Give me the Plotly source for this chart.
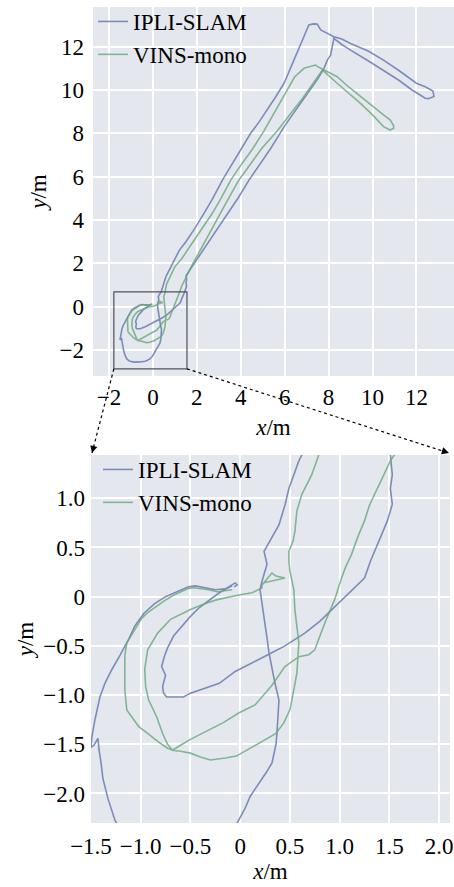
import plotly.graph_objects as go

# ---------------- data ----------------
ipli_x = [-0.06, -0.03, -0.05, -0.08, -0.15, -0.25, -0.35, -0.45, -0.52, -0.62, -0.75, -0.86, -0.97,
          -1.06, -1.13, -1.21, -1.29, -1.36, -1.41, -1.46, -1.49, -1.50, -1.47, -1.43, -1.42, -1.40,
          -1.38, -1.33, -1.26, -1.18, -1.05, -0.85, -0.60, -0.35, -0.15, -0.03, 0.05, 0.10, 0.19, 0.26,
          0.32, 0.36, 0.37, 0.38, 0.39, 0.35, 0.32, 0.29, 0.27, 0.25, 0.22, 0.20, 0.22, 0.27, 0.24, 0.29,
          0.39, 0.45, 0.49, 0.54, 0.59, 0.62, 0.75, 0.97, 1.20, 1.50, 1.90, 2.33, 2.70, 3.17, 3.50, 3.90,
          4.45, 4.85, 5.21, 5.60, 5.97, 6.20, 6.42, 6.65, 6.88, 7.00, 7.10, 7.30, 7.48, 7.64, 7.95, 8.24,
          8.60, 9.00, 9.80, 10.50, 11.20, 12.00, 12.40, 12.75, 12.80, 12.55, 12.40, 11.80, 11.20, 10.50,
          9.80, 9.00, 8.60, 8.24, 8.15, 8.09, 7.94, 7.79, 7.50, 7.10, 6.73, 6.35, 5.97, 5.36, 4.90, 4.38,
          3.90, 3.40, 2.90, 2.35, 1.87, 1.65, 1.51, 1.53, 1.51, 1.53, 1.48, 1.41, 1.31, 1.25, 1.17, 1.13,
          0.95, 0.80, 0.65, 0.45, 0.28, 0.12, -0.05, -0.21, -0.35, -0.50, -0.57, -0.66, -0.74, -0.77,
          -0.78, -0.75, -0.79, -0.76, -0.73, -0.67, -0.60, -0.50, -0.41, -0.30, -0.21, -0.12, -0.08]
ipli_y = [0.10, 0.12, 0.14, 0.12, 0.08, 0.07, 0.09, 0.11, 0.10, 0.06, 0.00, -0.07, -0.17,
          -0.30, -0.45, -0.60, -0.74, -0.88, -1.02, -1.25, -1.42, -1.53, -1.51, -1.44, -1.55, -1.68,
          -1.85, -2.05, -2.27, -2.42, -2.52, -2.56, -2.55, -2.52, -2.42, -2.30, -2.15, -2.03, -1.90, -1.79,
          -1.69, -1.50, -1.39, -1.20, -1.05, -0.88, -0.72, -0.57, -0.42, -0.27, -0.03, 0.07, 0.16, 0.33, 0.46, 0.55,
          0.73, 0.93, 1.10, 1.24, 1.38, 1.44, 1.70, 2.17, 2.60, 3.00, 3.60, 4.32, 4.95, 5.85, 6.40, 7.10,
          8.00, 8.55, 9.08, 9.70, 10.31, 10.85, 11.38, 11.90, 12.46, 12.80, 13.00, 13.05, 13.04, 12.77, 12.62, 12.46,
          12.35, 12.15, 11.80, 11.38, 10.90, 10.31, 10.15, 9.95, 9.70, 9.60, 9.62, 10.00, 10.45, 10.92,
          11.35, 11.84, 12.10, 12.38, 11.95, 11.61, 11.38, 11.00, 10.50, 9.95, 9.40, 8.85, 8.30, 7.30, 6.60, 5.85,
          5.05, 4.30, 3.55, 2.70, 2.00, 1.70, 1.44, 1.24, 1.10, 0.94, 0.77, 0.60, 0.36, 0.19, 0.11, 0.07,
          -0.10, -0.25, -0.37, -0.50, -0.59, -0.67, -0.76, -0.88, -0.93, -0.98, -1.02, -1.02, -1.02, -0.98,
          -0.91, -0.80, -0.71, -0.60, -0.52, -0.40, -0.32, -0.20, -0.11, -0.03, 0.04, 0.09, 0.11]

vins_x = [-0.08, -0.15, -0.23, -0.32, -0.40, -0.47, -0.53, -0.60, -0.66, -0.76, -0.86, -0.94, -0.99,
          -1.05, -1.09, -1.14, -1.16, -1.16, -1.16, -1.14, -1.09, -1.02, -0.93, -0.83, -0.73, -0.68,
          -0.60, -0.50, -0.40, -0.30, -0.15, -0.04, 0.05, 0.17, 0.26, 0.36, 0.44, 0.50, 0.52, 0.55, 0.57,
          0.58, 0.59, 0.57, 0.55, 0.54, 0.52, 0.50, 0.49, 0.49, 0.53, 0.55, 0.57, 0.62, 0.67, 0.72, 0.79,
          1.00, 1.30, 1.90, 2.71, 3.10, 3.55, 4.05, 4.55, 5.05, 5.60, 6.05, 6.45, 6.88, 7.10, 7.40, 7.64,
          8.00, 8.39, 8.90, 9.45, 10.00, 10.50, 10.80, 10.96, 10.96, 10.80, 10.50, 10.00, 9.45, 8.90, 8.39,
          7.72, 7.30, 6.80, 6.30, 5.65, 4.95, 4.40, 3.92, 3.50, 3.09, 2.60, 2.10, 1.80, 1.55, 1.51, 1.45,
          1.38, 1.30, 1.25, 1.18, 1.12, 1.06, 1.02, 0.95, 0.85, 0.75, 0.69, 0.59, 0.45, 0.32, 0.15, -0.01,
          -0.17, -0.35, -0.50, -0.60, -0.68, -0.73, -0.78, -0.84, -0.92, -0.95, -0.96, -0.93, -0.83, -0.70,
          -0.50, -0.35, -0.23, 0.00, 0.12, 0.22, 0.22, 0.32, 0.36, 0.45, 0.33, 0.23]
vins_y = [0.07, 0.06, 0.05, 0.07, 0.08, 0.09, 0.08, 0.05, 0.02, -0.04, -0.11, -0.17, -0.22,
          -0.32, -0.40, -0.47, -0.60, -0.74, -0.95, -1.15, -1.22, -1.32, -1.39, -1.47, -1.54, -1.56,
          -1.57, -1.59, -1.63, -1.66, -1.64, -1.62, -1.57, -1.50, -1.45, -1.39, -1.28, -1.15, -1.05, -0.90, -0.78,
          -0.62, -0.47, -0.30, -0.13, 0.07, 0.17, 0.26, 0.36, 0.46, 0.56, 0.66, 0.87, 1.04, 1.14, 1.24, 1.44,
          1.85, 2.20, 3.10, 4.32, 5.00, 5.85, 6.60, 7.30, 8.10, 9.10, 9.90, 10.60, 11.00, 11.07, 11.15, 11.00,
          10.80, 10.61, 10.15, 9.69, 9.25, 8.85, 8.62, 8.35, 8.23, 8.15, 8.31, 8.85, 9.38, 9.85, 10.31,
          10.92, 10.30, 9.60, 8.95, 8.10, 7.30, 6.55, 5.85, 5.10, 4.32, 3.40, 2.50, 1.95, 1.44, 1.38, 1.25,
          1.10, 0.93, 0.77, 0.60, 0.43, 0.30, 0.19, -0.03, -0.27, -0.54, -0.59, -0.61, -0.71, -0.90, -1.10, -1.18,
          -1.28, -1.37, -1.45, -1.51, -1.56, -1.50, -1.39, -1.22, -1.05, -0.92, -0.74, -0.54, -0.37, -0.23,
          -0.13, -0.07, -0.03, 0.02, 0.04, 0.09, 0.12, 0.24, 0.21, 0.19, 0.16, 0.14]

top_ticks = [-2, 0, 2, 4, 6, 8, 10, 12]
top_ticktext = ["\u22122", "0", "2", "4", "6", "8", "10", "12"]
zoom_xticks = [-1.5, -1.0, -0.5, 0, 0.5, 1.0, 1.5, 2.0]
zoom_xticktext = ["\u22121.5", "\u22121.0", "\u22120.5", "0", "0.5", "1.0", "1.5", "2.0"]
zoom_yticks = [-2.0, -1.5, -1.0, -0.5, 0, 0.5, 1.0]
zoom_yticktext = ["\u22122.0", "\u22121.5", "\u22121.0", "\u22120.5", "0", "0.5", "1.0"]

zoom_box_x = [-1.78, 1.55]
zoom_box_y = [-2.87, 0.68]

# ---------------- styling ----------------
W, H = 454, 887
FONT = "'Liberation Serif', 'Times New Roman', 'DejaVu Serif', serif"
BLUE = "rgba(96,118,170,0.8)"
GREEN = "rgba(104,168,122,0.8)"
BG = "#E5E7EF"
FS = 23

top_xr = [-2.73, 13.71]
top_yr = [-3.20, 13.83]
bot_xr = [-1.50, 2.11]
bot_yr = [-2.30, 1.44]

top_xd = [93 / W, 1.0]
top_yd = [1 - 376 / H, 1 - 7 / H]
bot_xd = [91 / W, 450 / W]
bot_yd = [1 - 823 / H, 1 - 455 / H]

fig = go.Figure()
fig.add_trace(go.Scatter(x=ipli_x, y=ipli_y, mode="lines", name="IPLI-SLAM",
                         line=dict(color=BLUE, width=1.6), xaxis="x", yaxis="y", legend="legend"))
fig.add_trace(go.Scatter(x=vins_x, y=vins_y, mode="lines", name="VINS-mono",
                         line=dict(color=GREEN, width=1.6), xaxis="x", yaxis="y", legend="legend"))
fig.add_trace(go.Scatter(x=ipli_x, y=ipli_y, mode="lines", name="IPLI-SLAM",
                         line=dict(color=BLUE, width=1.6), xaxis="x2", yaxis="y2", legend="legend2"))
fig.add_trace(go.Scatter(x=vins_x, y=vins_y, mode="lines", name="VINS-mono",
                         line=dict(color=GREEN, width=1.6), xaxis="x2", yaxis="y2", legend="legend2"))

tickfont = dict(family=FONT, size=FS, color="black")
titlefont = dict(family=FONT, size=FS, color="black")
common = dict(showgrid=True, gridcolor="white", gridwidth=1.6, zeroline=False,
              showline=False, ticks="", tickfont=tickfont, automargin=False,
              ticklabeloverflow="allow")

fig.update_layout(
    width=W, height=H, autosize=False,
    margin=dict(l=0, r=0, t=0, b=0, pad=0),
    font=dict(family=FONT, size=FS, color="black"),
    paper_bgcolor="white", plot_bgcolor=BG,
    showlegend=True,
    xaxis=dict(domain=top_xd, range=top_xr, anchor="y", tickvals=top_ticks, ticktext=top_ticktext,
               ticklabelstandoff=5,
               title=dict(text="<i>x</i>/m", font=titlefont, standoff=9), **common),
    yaxis=dict(domain=top_yd, range=top_yr, anchor="x", tickvals=top_ticks, ticktext=top_ticktext,
               ticklabelstandoff=8,
               title=dict(text="<i>y</i>/m", font=titlefont, standoff=6), **common),
    xaxis2=dict(domain=bot_xd, range=bot_xr, anchor="y2", tickvals=zoom_xticks, ticktext=zoom_xticktext,
                ticklabelstandoff=7,
                title=dict(text="<i>x</i>/m", font=titlefont, standoff=2), **common),
    yaxis2=dict(domain=bot_yd, range=bot_yr, anchor="x2", tickvals=zoom_yticks, ticktext=zoom_yticktext,
                ticklabelstandoff=5,
                title=dict(text="<i>y</i>/m", font=titlefont, standoff=3), **common),
    legend=dict(x=93 / W, y=1.0, xanchor="left", yanchor="top", bgcolor="rgba(0,0,0,0)",
                font=dict(family=FONT, size=FS, color="black"), tracegroupgap=0),
    legend2=dict(x=98 / W, y=1 - 448 / H, xanchor="left", yanchor="top", bgcolor="rgba(0,0,0,0)",
                 font=dict(family=FONT, size=FS, color="black"), tracegroupgap=0),
)

# zoom rectangle on top axes
fig.add_shape(type="rect", xref="x", yref="y", x0=zoom_box_x[0], x1=zoom_box_x[1],
              y0=zoom_box_y[0], y1=zoom_box_y[1], line=dict(color="#505058", width=1.2))


def to_paper(xv, yv, xr, yr, xd, yd):
    px = xd[0] + (xv - xr[0]) / (xr[1] - xr[0]) * (xd[1] - xd[0])
    py = yd[0] + (yv - yr[0]) / (yr[1] - yr[0]) * (yd[1] - yd[0])
    return px, py


corner_l = to_paper(zoom_box_x[0], zoom_box_y[0], top_xr, top_yr, top_xd, top_yd)
corner_r = to_paper(zoom_box_x[1], zoom_box_y[0], top_xr, top_yr, top_xd, top_yd)
end_l = (bot_xd[0] + 1 / W, bot_yd[1] + 2 / H)
end_r = (bot_xd[1] - 1 / W, bot_yd[1] + 2 / H)

for (sx, sy), (ex, ey) in [(corner_l, end_l), (corner_r, end_r)]:
    fig.add_shape(type="line", xref="paper", yref="paper", x0=sx, y0=sy, x1=ex, y1=ey,
                  line=dict(color="black", width=1.2, dash="dot"))
    dxp = (ex - sx) * W
    dyp = -(ey - sy) * H
    n = (dxp ** 2 + dyp ** 2) ** 0.5
    fig.add_annotation(x=ex, y=ey, xref="paper", yref="paper", text="", showarrow=True,
                       arrowhead=2, arrowsize=1.2, arrowwidth=1.2, arrowcolor="black",
                       ax=-dxp / n * 9, ay=-dyp / n * 9)

fig.write_html("out.html")
